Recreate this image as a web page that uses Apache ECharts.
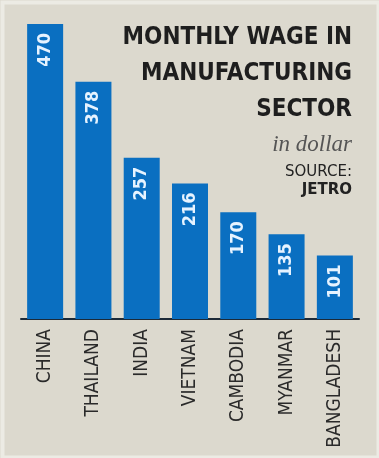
<!DOCTYPE html>
<html>
<head>
<meta charset="utf-8">
<script src="https://cdn.jsdelivr.net/npm/echarts@6/dist/echarts.min.js"></script>
<style>
html,body{margin:0;padding:0;background:#e6e3da;}
#c{width:379px;height:458px;}
</style>
</head>
<body>
<div id="c"></div>
<script>
const categories = ["CHINA","THAILAND","INDIA","VIETNAM","CAMBODIA","MYANMAR","BANGLADESH"];
const wages = [470,378,257,216,170,135,101];
const titleLines = ["MONTHLY WAGE IN", "MANUFACTURING", "SECTOR"];
const unitText = "in dollar";
const sourceLabel = "SOURCE:";
const sourceName = "JETRO";
const COND = "'DejaVu Sans Condensed', 'Liberation Sans Narrow', sans-serif";

const titleStyle = {fontFamily: COND, fontWeight: 'bold', fontSize: 24, color: '#1e1e1e'};
const titles = titleLines.map((t, i) => ({text: t, right: 22, top: 21 + i * 36, textStyle: titleStyle}));

const chart = echarts.init(document.getElementById('c'));
chart.setOption({
  backgroundColor: '#dcd9ce',
  animation: false,
  graphic: [{
    type: 'rect', left: 0, top: 0, z: -10, silent: true,
    shape: {x: 1.5, y: 1.5, width: 376, height: 455},
    style: {fill: 'none', stroke: '#ecebe4', lineWidth: 4}
  }],
  title: titles.concat([
    {
      text: unitText,
      right: 22, top: 128,
      textStyle: {fontFamily: 'Liberation Serif', fontStyle: 'italic', fontWeight: 'normal', fontSize: 23, color: '#555'}
    },
    {
      text: sourceLabel,
      right: 22, top: 160,
      textStyle: {fontFamily: 'DejaVu Sans', fontWeight: 'normal', fontSize: 15, color: '#222'}
    },
    {
      text: sourceName,
      right: 22, top: 178,
      textStyle: {fontFamily: 'DejaVu Sans', fontWeight: 'bold', fontSize: 15, color: '#222'}
    }
  ]),
  grid: {left: 21, right: 20, top: 24, bottom: 139, containLabel: false, outerBoundsMode: 'none'},
  xAxis: {
    type: 'category',
    data: categories,
    axisTick: {show: false},
    axisLine: {show: true, lineStyle: {color: '#1c2a38', width: 2}},
    axisLabel: {rotate: 90, margin: 10, fontFamily: COND, fontSize: 19, color: '#2a2a2a', interval: 0}
  },
  yAxis: {type: 'value', min: 0, max: 470, show: false, splitLine: {show: false}},
  series: [{
    type: 'bar',
    data: wages,
    barWidth: 36,
    itemStyle: {color: '#0a6fc1'},
    label: {
      show: true,
      position: 'insideTop',
      rotate: 90,
      align: 'right',
      verticalAlign: 'middle',
      distance: 9,
      fontFamily: COND,
      fontWeight: 'bold',
      fontSize: 18,
      color: '#e6f3ff'
    }
  }]
});
</script>
</body>
</html>
